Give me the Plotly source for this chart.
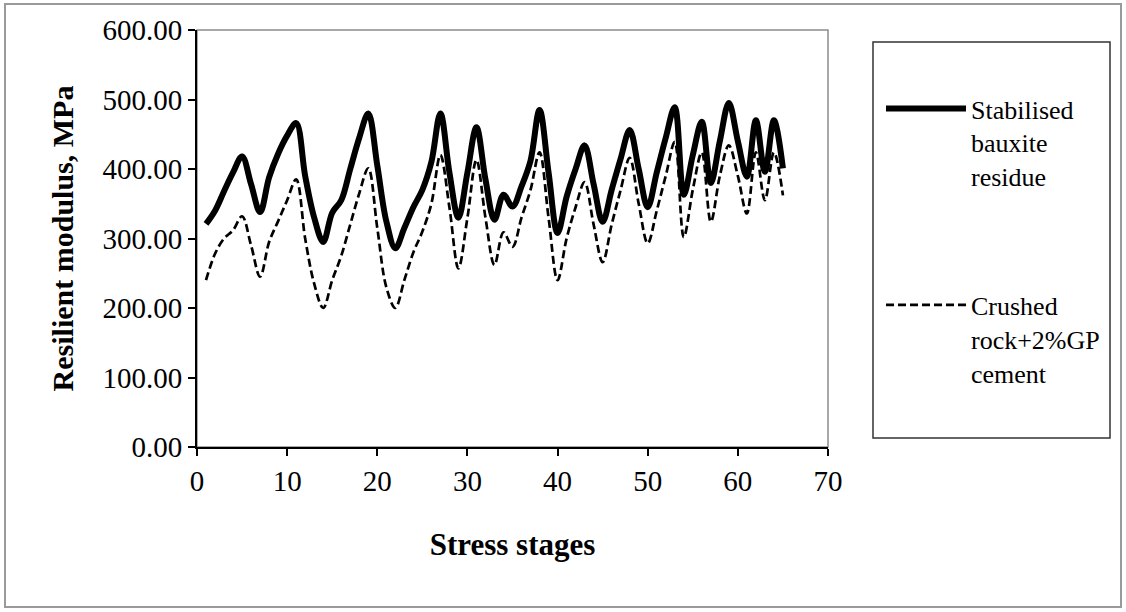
import plotly.graph_objects as go

# ---- data ----
stages = list(range(1, 66))
stabilised = [321, 340, 368, 395, 418, 378, 338, 388, 422, 448,
              466, 390, 330, 295, 337, 355, 400, 445, 480, 405,
              325, 286, 315, 345, 370, 410, 480, 395, 330, 395,
              460, 385, 327, 363, 346, 375, 412, 485, 395, 308,
              360, 400, 434, 378, 324, 370, 415, 456, 400, 345,
              395, 445, 489, 363, 420, 468, 380, 440, 495, 440,
              389, 470, 396, 470, 401]
crushed = [240, 278, 300, 312, 332, 290, 245, 295, 325, 355,
           385, 300, 235, 200, 240, 275, 320, 365, 401, 315,
           230, 200, 240, 280, 310, 350, 420, 345, 257, 330,
           413, 330, 262, 309, 288, 330, 370, 424, 330, 240,
           300, 345, 381, 320, 266, 320, 370, 416, 350, 293,
           340, 390, 439, 302, 370, 424, 324, 390, 434, 390,
           336, 424, 355, 424, 362]
series_names = ["Stabilised<br>bauxite<br>residue", "Crushed<br>rock+2%GP<br>cement"]
x_ticks = [0, 10, 20, 30, 40, 50, 60, 70]
y_ticks = [0, 100, 200, 300, 400, 500, 600]

W, H = 1126, 612
PL, PR, PT, PB = 197, 828, 30, 447  # plot area in pixels
pw, ph = PR - PL, PB - PT

def px_x(p):
    return (p - PL) / pw

def px_y(p):
    return (PB - p) / ph

FONT = "Liberation Serif"

fig = go.Figure()
fig.add_trace(go.Scatter(
    x=stages, y=stabilised, mode="lines", name=series_names[0],
    legendgroup="a",
    line=dict(color="black", width=6, shape="spline", smoothing=1.0),
))
fig.add_trace(go.Scatter(
    x=stages, y=crushed, mode="lines", name=series_names[1],
    legendgroup="b",
    line=dict(color="black", width=2.7, dash="8px,4px", shape="spline", smoothing=1.0),
))

fig.update_layout(
    width=W, height=H,
    margin=dict(l=PL, r=W - PR, t=PT, b=H - PB, pad=0),
    paper_bgcolor="white", plot_bgcolor="white",
    font=dict(family=FONT, color="black", size=29),
    showlegend=True,
    legend=dict(
        x=px_x(881), y=px_y(85), xanchor="left", yanchor="top",
        font=dict(family=FONT, size=26, color="black"),
        bgcolor="rgba(0,0,0,0)", borderwidth=0,
        traceorder="grouped", tracegroupgap=92, valign="top",
        itemwidth=80,
    ),
    xaxis=dict(
        range=[0, 70], tickvals=x_ticks, ticks="outside", ticklen=7,
        tickwidth=1.5, tickcolor="black",
        showline=True, linecolor="black", linewidth=2,
        showgrid=False, zeroline=False,
        tickfont=dict(family=FONT, size=29, color="black"),
        title=dict(text="Stress stages", standoff=38,
                   font=dict(family=FONT, size=31, color="black", weight="bold")),
    ),
    yaxis=dict(
        range=[0, 600], tickvals=y_ticks, tickformat=".2f", ticks="outside",
        ticklen=7, tickwidth=1.5, tickcolor="black",
        showline=True, linecolor="black", linewidth=2,
        showgrid=False, zeroline=False,
        tickfont=dict(family=FONT, size=29, color="black"),
        title=dict(text="Resilient modulus, MPa", standoff=20,
                   font=dict(family=FONT, size=30, color="black", weight="bold")),
    ),
    shapes=[
        # plot-area frame (top / right grey border)
        dict(type="rect", xref="paper", yref="paper", x0=0, x1=1, y0=0, y1=1,
             line=dict(color="#8c8c8c", width=1.5), layer="below"),
        # legend box
        dict(type="rect", xref="paper", yref="paper",
             x0=px_x(873), x1=px_x(1110), y0=px_y(438), y1=px_y(42),
             line=dict(color="#333333", width=1.5), layer="below"),
        # outer chart border
        dict(type="rect", xref="paper", yref="paper",
             x0=px_x(5), x1=px_x(1121), y0=px_y(607), y1=px_y(4),
             line=dict(color="#9a9a9a", width=2), layer="below"),
    ],
)

fig.write_html("out.html", config={"displayModeBar": False},
               post_script="document.body.style.margin='0';document.body.style.padding='0';")
